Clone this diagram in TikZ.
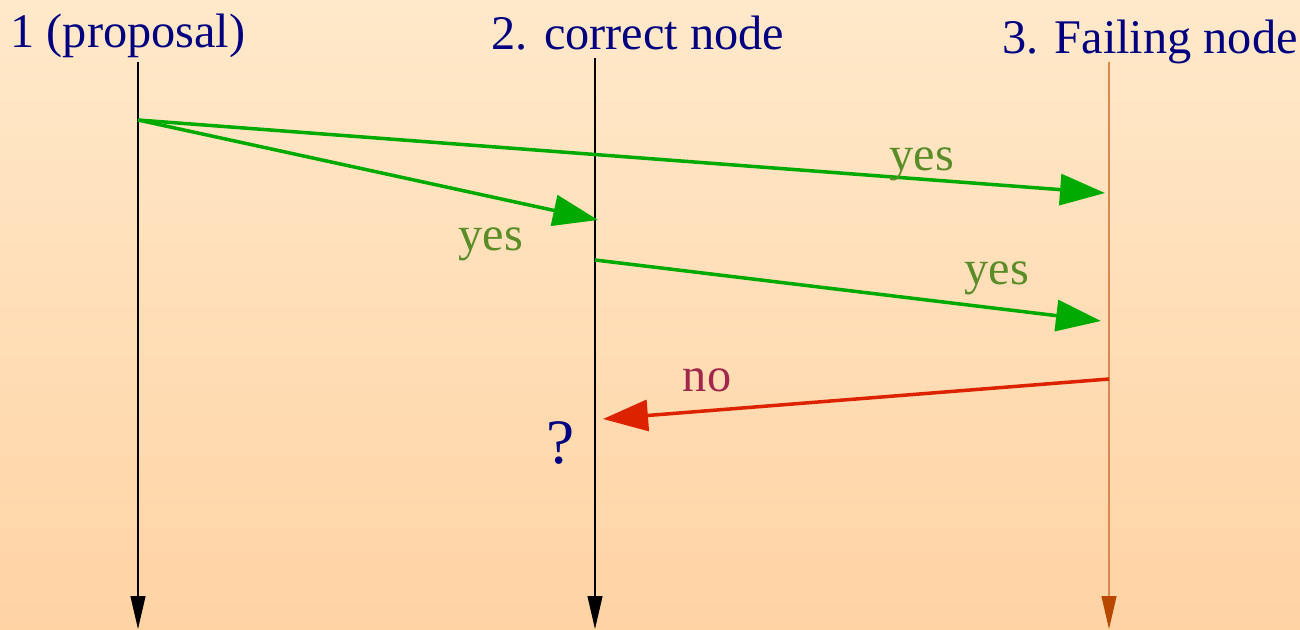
\documentclass[tikz,border=0pt]{standalone}
\usepackage{fontspec}
\setmainfont{Liberation Serif}
\newfontfamily\timesfont{Liberation Serif}
\usetikzlibrary{arrows.meta,positioning,calc}
\usepackage{xcolor}
\definecolor{bgtop}{RGB}{255,233,202}
\definecolor{bgbottom}{RGB}{255,211,164}
\definecolor{titleblue}{RGB}{0,0,128}
\definecolor{msggreen}{RGB}{0,170,0}
\definecolor{yesgreen}{RGB}{90,140,40}
\definecolor{msgred}{RGB}{221,34,0}
\definecolor{nored}{RGB}{160,40,76}
\definecolor{failline}{RGB}{217,136,80}
\definecolor{failtip}{RGB}{184,72,0}

\begin{document}
\begin{tikzpicture}[
    x=0.02cm, y=-0.02cm,
    title/.style={anchor=base, text=titleblue, font=\timesfont\fontsize{27.5}{32}\selectfont, inner sep=0pt},
    lifeline/.style={line width=0.6pt, -{Triangle[length=0.66cm, width=0.3cm]}},
    msg/.style={line width=2pt, -{Triangle[length=0.9cm, width=0.62cm]}},
    answer/.style={anchor=base, font=\timesfont\fontsize{27.5}{32}\selectfont, inner sep=0pt}
]

% Hintergrund
\path[top color=bgtop, bottom color=bgbottom] (0,0) rectangle (1300,629);
\useasboundingbox (0,0) rectangle (1300,629);

% === Titel ===
\node (p1) [title] at (128,47) {1 (proposal)};
\node (p2) [title] at (638,49) {2. correct node};
\node (p3) [title] at (1150,53) {3. Failing node};

% === Lebenslinien ===
\coordinate (top1) at (138,62);
\coordinate (top2) at (595,58);
\coordinate (top3) at (1109,62);
\coordinate (end1) at (138,629);
\coordinate (end2) at (595,629);
\coordinate (end3) at (1109,629);

\draw[lifeline, black] (top1) -- (end1);
\draw[lifeline, black] (top2) -- (end2);
\draw[lifeline, draw=failline, -{Triangle[length=0.66cm, width=0.3cm, color=failtip, fill=failtip]}] (top3) -- (end3);

% === Nachrichten ===
\coordinate (send1) at (138,120);
\coordinate (recv13) at (1105,193);
\coordinate (recv12) at (598,220);
\coordinate (send2) at (595,260);
\coordinate (recv23) at (1101,321);
\coordinate (send3) at (1109,379);
\coordinate (recv32) at (603,419);

\draw[msg, msggreen] (send1) -- (recv13);
\draw[msg, msggreen] (send1) -- (recv12);
\draw[msg, msggreen] (send2) -- (recv23);
\draw[msg, msgred] (send3) -- (recv32);

% Antworten
\node (yes13) [answer, text=yesgreen] at (922,170) {yes};
\node (yes12) [answer, text=yesgreen] at (491,250) {yes};
\node (yes23) [answer, text=yesgreen] at (997,284) {yes};
\node (no32) [answer, text=nored] at (707,391) {no};
\node (unknown) [anchor=base, text=titleblue, font=\timesfont\fontsize{36}{40}\selectfont, inner sep=0pt] at (561,463) {?};

\end{tikzpicture}
\end{document}
